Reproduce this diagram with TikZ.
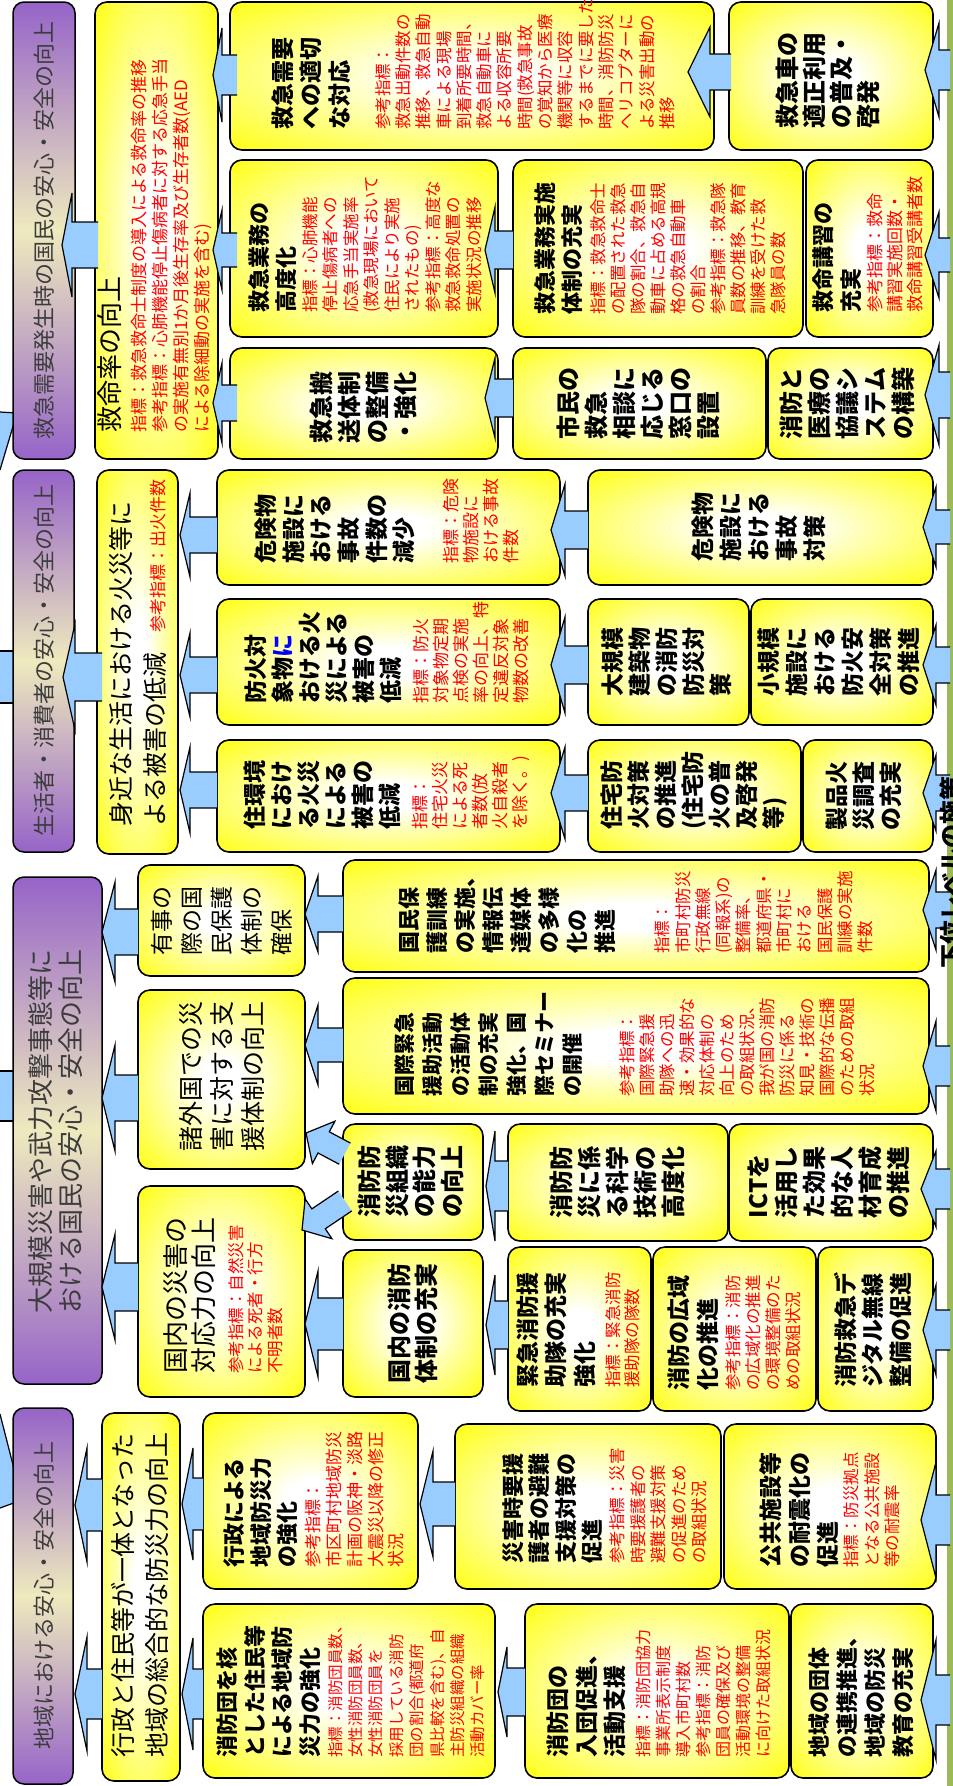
\documentclass[tikz,border=0pt]{standalone}
\usepackage{fontspec}
\setmainfont{Noto Sans CJK JP}
\definecolor{ylw}{RGB}{255,255,0}
\definecolor{prp}{RGB}{150,100,200}
\definecolor{crm}{RGB}{238,234,190}
\definecolor{blu}{RGB}{153,204,255}
\definecolor{grn}{RGB}{155,187,89}
\definecolor{rd}{RGB}{255,0,0}
\definecolor{ptx}{RGB}{60,60,60}
\pgfdeclareradialshading{yglow}{\pgfpoint{0bp}{0bp}}{color(0bp)=(white); color(6bp)=(white); color(38bp)=(ylw); color(50bp)=(ylw)}
\newcommand\Ln[4]{\baselineskip=#1pt\relax\hbox{\fontsize{#2pt}{#2pt}\selectfont\color{#3}#4}}
\newcommand\Tx[3]{\Ln{#1}{#2}{black}{\bfseries #3}}
\newcommand\Ux[3]{\Ln{#1}{#2}{black}{#3}}
\newcommand\Rx[3]{\Ln{#1}{#2}{rd}{#3}}
\newcommand\VB[1]{\vbox{\lineskiplimit=-100pt\lineskip=0pt\relax #1}}
\tikzset{
 ybox/.style={draw=black, line width=1.6pt, rounded corners=12pt, shading=yglow, rotate=90, inner sep=0pt, outer sep=0pt},
 pbox/.style={draw=black, line width=1.5pt, rounded corners=11pt, top color=prp, bottom color=prp, middle color=crm, rotate=90, inner sep=0pt, outer sep=0pt},
 txt/.style={rotate=90, inner sep=0pt},
 aline/.style={draw=black, line width=1.2pt, line join=miter}
}
% box: name, px1, px2, py1, py2
\newcommand{\yb}[6][]{\node[ybox,minimum width={(#6)-(#5)},minimum height={(#4)-(#3)},#1] (#2) at ({((#3)+(#4))/2},{-((#5)+(#6))/2}) {};}
\newcommand{\pb}[5]{\node[pbox,minimum width={(#5)-(#4)},minimum height={(#3)-(#2)}] (#1) at ({((#2)+(#3))/2},{-((#4)+(#5))/2}) {};}
% text node: anchor, name, px, py, content
\newcommand{\tx}[5]{\node[txt,anchor=#1] (#2) at (#3,-#4) {\VB{#5}};}
% arrow: tipx, tipy, angle, length, headlength, headhalfwidth, shafthalfwidth
\newcommand\garr[7]{\begin{scope}[shift={(#1,-#2)},rotate=#3]
\fill[blu] (0,0) -- ({-(#5)},{#6}) -- ({-(#5)},{#7}) -- ({-(#4)},{#7}) -- ({-(#4)},{-(#7)}) -- ({-(#5)},{-(#7)}) -- ({-(#5)},{-(#6)}) -- cycle;
\draw[aline] ({-(#4)},{#7}) -- ({-(#5)},{#7}) -- ({-(#5)},{#6}) -- (0,0) -- ({-(#5)},{-(#6)}) -- ({-(#5)},{-(#7)}) -- ({-(#4)},{-(#7)});
\end{scope}}
% left arrow: tip, base, tail, cy, hw, sw
\newcommand\larr[6]{\garr{#1}{#4}{180}{(#3)-(#1)}{(#2)-(#1)}{#5}{#6}}
\begin{document}
\begin{tikzpicture}[x=1pt,y=1pt]
\useasboundingbox (0,0) rectangle (953,-1786);
\clip (0,0) rectangle (953,-1786);
\fill[white] (0,0) rectangle (953,-1786);
% off-image arrows on the left
\fill[blu] (0,-412) -- (17,-413) -- (0,-470) -- cycle;
\draw[aline] (0,-412) -- (17,-413) -- (0,-470);
\fill[blu] (0,-1414) -- (22,-1500) -- (0,-1508) -- cycle;
\draw[aline] (0,-1414) -- (22,-1500) -- (0,-1508);
\fill[blu] (-5,-651) rectangle (14,-703);
\draw[aline] (-5,-651) -- (14,-651) (-5,-703) -- (14,-703);
\fill[blu] (-5,-1071) rectangle (14,-1121);
\draw[aline] (-5,-1071) -- (14,-1071) (-5,-1121) -- (14,-1121);
% green strip
\fill[grn] (947,0) rectangle (953,-1786);
% purple headers
\pb{p1}{13}{75}{2}{459}
\pb{p2}{13}{74}{470}{852}
\pb{p3}{13}{102}{877}{1384}
\pb{p4}{13}{73}{1408}{1784}
% level B
\yb{b1}{95}{218}{2}{459}
\yb{b2}{97}{178}{470}{854}
\yb{b3a}{138}{305}{865}{976}
\yb{b3b}{138}{305}{990}{1169}
\yb{b3c}{138}{305}{1186}{1397}
\yb{b4}{102}{180}{1413}{1781}
% section 1
\yb{s1a}{230}{714}{2}{150}
\yb{s1b}{729}{933}{2}{150}
\yb{s1c}{230}{498}{160}{337}
\yb{s1d}{513}{803}{160}{337}
\yb{s1e}{806}{933}{160}{337}
\yb{s1f}{230}{498}{348}{459}
\yb{s1g}{513}{766}{348}{459}
\yb{s1h}{768}{933}{348}{459}
% section 2
\yb{s2a}{217}{560}{470}{585}
\yb{s2b}{588}{933}{470}{585}
\yb{s2c}{217}{560}{599}{725}
\yb{s2d}{588}{749}{599}{725}
\yb{s2e}{751}{933}{599}{725}
\yb{s2f}{217}{560}{740}{852}
\yb{s2g}{588}{801}{740}{852}
\yb{s2h}{803}{933}{740}{852}
% section 3
\yb{s3a}{343}{929}{860}{972}
\yb{s3b}{343}{929}{978}{1114}
\yb{s3c}{343}{483}{1124}{1240}
\yb{s3d}{508}{728}{1124}{1241}
\yb{s3e}{729}{933}{1124}{1241}
\yb{s3f}{343}{483}{1250}{1397}
\yb{s3g}{508}{651}{1247}{1411}
\yb{s3h}{653}{816}{1247}{1411}
\yb{s3i}{818}{933}{1247}{1411}
% section 4
\yb{s4a}{203}{418}{1413}{1589}
\yb{s4b}{203}{495}{1604}{1778}
\yb{s4c}{455}{721}{1424}{1589}
\yb{s4d}{724}{936}{1424}{1589}
\yb{s4e}{525}{789}{1604}{1778}
\yb{s4f}{791}{933}{1604}{1778}
% arrows section 1
\larr{62}{72}{98}{245}{52}{23}
\larr{213}{222}{237}{75}{47}{20}
\larr{213}{222}{237}{250}{40}{17}
\larr{213}{222}{237}{403}{40}{18}
\larr{688}{710}{731}{72}{45}{18}
\larr{485}{495}{513}{250}{43}{19}
\larr{485}{495}{513}{398}{40}{19}
\larr{925}{939}{950}{70}{47}{20}
\larr{925}{939}{950}{255}{43}{17}
\larr{925}{939}{950}{395}{50}{23}
% arrows section 2
\larr{63}{75}{102}{677}{53}{24}
\larr{180}{190}{217}{535}{42}{18}
\larr{180}{190}{217}{675}{42}{18}
\larr{180}{190}{217}{790}{43}{18}
\larr{551}{565}{588}{530}{46}{19}
\larr{551}{565}{588}{665}{48}{19}
\larr{551}{565}{588}{793}{46}{18}
\larr{923}{936}{950}{527}{40}{17}
\larr{923}{936}{950}{665}{40}{18}
\larr{923}{936}{950}{793}{38}{18}
% arrows section 3
\larr{102}{115}{138}{932}{50}{23}
\larr{102}{115}{138}{1098}{53}{23}
\larr{102}{115}{138}{1287}{53}{24}
\larr{305}{318}{343}{914}{38}{18}
\larr{305}{318}{343}{1045}{40}{17}
\garr{306}{1133}{152}{44}{20}{24}{12}
\garr{302}{1230}{214}{52}{20}{24}{12}
\larr{305}{318}{343}{1324}{53}{26}
\larr{486}{495}{508}{1186}{55}{25}
\larr{486}{495}{508}{1325}{50}{24}
\larr{923}{936}{950}{910}{40}{18}
\larr{923}{936}{950}{1066}{45}{20}
\larr{921}{936}{950}{1189}{38}{20}
\larr{923}{936}{950}{1330}{45}{20}
% arrows section 4
\larr{75}{87}{102}{1505}{57}{26}
\larr{75}{87}{102}{1694}{57}{25}
\larr{182}{193}{203}{1504}{56}{26}
\larr{182}{193}{203}{1694}{56}{25}
\larr{420}{433}{455}{1504}{53}{22}
\larr{498}{507}{525}{1692}{45}{24}
\larr{921}{936}{950}{1520}{58}{25}
\larr{921}{936}{950}{1700}{60}{25}
% cut-off label at right edge
\node[txt] (lower) at (951,-872) {\fontsize{24pt}{24pt}\selectfont\bfseries 下位レベルの施策};
% purple texts
\tx{center}{p1t}{44}{230}{\Ln{26}{22}{ptx}{救急需要発生時の国民の安心・安全の向上}}
\tx{center}{p2t}{44}{660}{\Ln{26}{22}{ptx}{生活者・消費者の安心・安全の向上}}
\tx{center}{p3t}{56}{1131}{\Ln{30}{26}{ptx}{大規模災害や武力攻撃事態等に}\Ln{30}{26}{ptx}{おける国民の安心・安全の向上}}
\tx{center}{p4t}{44}{1595}{\Ln{26}{22}{ptx}{地域における安心・安全の向上}}
% level B texts
\tx{west}{b1t}{155}{433}{\Ux{26}{26}{救命率の向上}\Rx{26}{17}{指標：救急救命士制度の導入による救命率の推移}\Rx{21}{17}{参考指標：心肺機能停止傷病者に対する応急手当}\Rx{21}{17}{の実施有無別1か月後生存率及び生存者数(AED}\Rx{21}{17}{による除細動の実施を含む)}}
\tx{west}{b2t}{138}{827}{\Ux{34}{25}{身近な生活における火災等に}\Ux{34}{25}{よる被害の低減\hspace{20pt}{\fontsize{17pt}{17pt}\selectfont\color{rd}参考指標：出火件数}}}
\tx{center}{b3at}{222}{921}{\Ux{30}{23}{有事の}\Ux{30}{23}{際の国}\Ux{30}{23}{民保護}\Ux{30}{23}{体制の}\Ux{30}{23}{確保}}
\tx{west}{b3bt}{222}{1152}{\Ux{31}{25}{諸外国での災}\Ux{31}{25}{害に対する支}\Ux{31}{25}{援体制の向上}}
\tx{west}{b3ct}{223}{1374}{\Ux{28}{26}{国内の災害の}\Ux{28}{26}{対応力の向上}\Rx{29}{16.5}{参考指標：自然災害}\Rx{19.5}{16.5}{による死者・行方}\Rx{19.5}{16.5}{不明者数}}
\tx{west}{b4t}{140}{1758}{\Ux{34}{25}{行政と住民等が一体となった}\Ux{34}{25}{地域の総合的な防災力の向上}}
% section 1 texts
\tx{west}{s1at}{473}{130}{\Tx{28.5}{23}{救急需要}\Tx{28.5}{23}{への適切}\Tx{28.5}{23}{な対応}\Rx{41}{16.5}{参考指標：}\Rx{20.3}{16.5}{救急出動件数の}\Rx{20.3}{16.5}{推移、救急自動}\Rx{20.3}{16.5}{車による現場}\Rx{20.3}{16.5}{到着所要時間、}\Rx{20.3}{16.5}{救急自動車に}\Rx{20.3}{16.5}{よる収容所要}\Rx{20.3}{16.5}{時間(救急事故}\Rx{20.3}{16.5}{の覚知から医療}\Rx{20.3}{16.5}{機関等に収容}\Rx{20.3}{16.5}{するまでに要した}\Rx{20.3}{16.5}{時間、消防防災}\Rx{20.3}{16.5}{ヘリコプターに}\Rx{20.3}{16.5}{よる災害出動の}\Rx{20.3}{16.5}{推移}}
\tx{center}{s1bt}{828}{80}{\Tx{27}{24}{救急車の}\Tx{27}{24}{適正利用}\Tx{27}{24}{の普及・}\Tx{27}{24}{啓発}}
\tx{west}{s1ct}{365}{313}{\Tx{27}{22}{救急業務の}\Tx{27}{22}{高度化}\Rx{22}{16.5}{指標：心肺機能}\Rx{20.5}{16.5}{停止傷病者への}\Rx{20.5}{16.5}{応急手当実施率}\Rx{20.5}{16.5}{(救急現場において}\Rx{20.5}{16.5}{住民により実施}\Rx{20.5}{16.5}{されたもの)}\Rx{20.5}{16.5}{参考指標：高度な}\Rx{20.5}{16.5}{救急救命処置の}\Rx{20.5}{16.5}{実施状況の推移}}
\tx{west}{s1dt}{660}{315}{\Tx{27}{22}{救急業務実施}\Tx{27}{22}{体制の充実}\Rx{24}{16.5}{指標：救急救命士}\Rx{20}{16.5}{の配置された救急}\Rx{20}{16.5}{隊の割合、救急自}\Rx{20}{16.5}{動車に占める高規}\Rx{20}{16.5}{格の救急自動車}\Rx{20}{16.5}{の割合}\Rx{20}{16.5}{参考指標：救急隊}\Rx{20}{16.5}{員数の推移、教育}\Rx{20}{16.5}{訓練を受けた救}\Rx{20}{16.5}{急隊員の数}}
\tx{west}{s1et}{868}{313}{\Tx{28}{22}{救命講習の}\Tx{28}{22}{充実}\Rx{22}{17}{参考指標：救命}\Rx{20}{17}{講習実施回数・}\Rx{20}{17}{救命講習受講者数}}
\tx{center}{s1ft}{363}{407}{\Tx{28}{24}{救急搬}\Tx{28}{24}{送体制}\Tx{28}{24}{の整備}\Tx{28}{24}{・強化}}
\tx{center}{s1gt}{638}{403}{\Tx{28}{24}{市民の}\Tx{28}{24}{救急}\Tx{28}{24}{相談に}\Tx{28}{24}{応じる}\Tx{28}{24}{窓口の}\Tx{28}{24}{設置}}
\tx{center}{s1ht}{847}{403}{\Tx{28}{24}{消防と}\Tx{28}{24}{医療の}\Tx{28}{24}{協議シ}\Tx{28}{24}{ステム}\Tx{28}{24}{の構築}}
% section 2 texts
\tx{west}{s2at}{387}{564}{\Tx{27.6}{23}{危険物}\Tx{27.6}{23}{施設に}\Tx{27.6}{23}{おける}\Tx{27.6}{23}{事故}\Tx{27.6}{23}{件数の}\Tx{27.6}{23}{減少}\Rx{45}{17}{指標：危険}\Rx{20}{17}{物施設に}\Rx{20}{17}{おける事故}\Rx{20}{17}{件数}}
\tx{center}{s2bt}{759}{527}{\Tx{28}{23}{危険物}\Tx{28}{23}{施設に}\Tx{28}{23}{おける}\Tx{28}{23}{事故}\Tx{28}{23}{対策}}
\tx{west}{s2ct}{387}{704}{\Tx{27}{23}{防火対}\Tx{27}{23}{象物{\color{blue}に}}\Tx{27}{23}{おける火}\Tx{27}{23}{災による}\Tx{27}{23}{被害の}\Tx{27}{23}{低減}\Rx{28}{17}{指標：防火}\Rx{20}{17}{対象物定期}\Rx{20}{17}{点検の実施}\Rx{20}{17}{率の向上、特}\Rx{20}{17}{定違反対象}\Rx{20}{17}{物数の改善}}
\tx{center}{s2dt}{667}{662}{\Tx{27}{23}{大規模}\Tx{27}{23}{建築物}\Tx{27}{23}{の消防}\Tx{27}{23}{防災対}\Tx{27}{23}{策}}
\tx{center}{s2et}{839}{662}{\Tx{28}{23}{小規模}\Tx{28}{23}{施設に}\Tx{28}{23}{おける}\Tx{28}{23}{防火安}\Tx{28}{23}{全対策}\Tx{28}{23}{の推進}}
\tx{west}{s2ft}{387}{830}{\Tx{27}{23}{住環境}\Tx{27}{23}{におけ}\Tx{27}{23}{る火災}\Tx{27}{23}{による}\Tx{27}{23}{被害の}\Tx{27}{23}{低減}\Rx{28}{17}{指標：}\Rx{20}{17}{住宅火災}\Rx{20}{17}{による死}\Rx{20}{17}{者数(放}\Rx{20}{17}{火自殺者}\Rx{20}{17}{を除く。)}}
\tx{west}{s2gt}{694}{830}{\Tx{27}{23}{住宅防}\Tx{27}{23}{火対策}\Tx{27}{23}{の推進}\Tx{27}{23}{(住宅防}\Tx{27}{23}{火の普}\Tx{27}{23}{及啓発}\Tx{27}{23}{等)}}
\tx{center}{s2ht}{864}{796}{\Tx{27}{23}{製品火}\Tx{27}{23}{災調査}\Tx{27}{23}{の充実}}
% section 3 texts
\tx{west}{s3at}{636}{954}{\Tx{28}{22}{国民保}\Tx{28}{22}{護訓練}\Tx{28}{22}{の実施、}\Tx{28}{22}{情報伝}\Tx{28}{22}{達媒体}\Tx{28}{22}{の多様}\Tx{28}{22}{化の}\Tx{28}{22}{推進}\Rx{55}{16.5}{指標：}\Rx{20.3}{16.5}{市町村防災}\Rx{20.3}{16.5}{行政無線}\Rx{20.3}{16.5}{(同報系)の}\Rx{20.3}{16.5}{整備率、}\Rx{20.3}{16.5}{都道府県・}\Rx{20.3}{16.5}{市町村に}\Rx{20.3}{16.5}{おける}\Rx{20.3}{16.5}{国民保護}\Rx{20.3}{16.5}{訓練の実施}\Rx{20.3}{16.5}{件数}}
\tx{west}{s3bt}{635}{1097}{\Tx{28}{21}{国際緊急}\Tx{28}{21}{援助活動}\Tx{28}{21}{の活動体}\Tx{28}{21}{制の充実}\Tx{28}{21}{強化、国}\Tx{28}{21}{際セミナー}\Tx{28}{21}{の開催}\Rx{53}{16.5}{参考指標：}\Rx{20}{16.5}{国際緊急援}\Rx{20}{16.5}{助隊への迅}\Rx{20}{16.5}{速・効果的な}\Rx{20}{16.5}{対応体制の}\Rx{20}{16.5}{向上のため}\Rx{20}{16.5}{の取組状況、}\Rx{20}{16.5}{我が国の消防}\Rx{20}{16.5}{防災に係る}\Rx{20}{16.5}{知見・技術の}\Rx{20}{16.5}{国際的な伝播}\Rx{20}{16.5}{のための取組}\Rx{20}{16.5}{状況}}
\tx{center}{s3ct}{411}{1181}{\Tx{27.5}{24}{消防防}\Tx{27.5}{24}{災組織}\Tx{27.5}{24}{の能力}\Tx{27.5}{24}{の向上}}
\tx{center}{s3dt}{617}{1182}{\Tx{28}{24}{消防防}\Tx{28}{24}{災に係}\Tx{28}{24}{る科学}\Tx{28}{24}{技術の}\Tx{28}{24}{高度化}}
\tx{center}{s3et}{829}{1182}{\Tx{28}{24}{ICTを}\Tx{28}{24}{活用し}\Tx{28}{24}{た効果}\Tx{28}{24}{的な人}\Tx{28}{24}{材育成}\Tx{28}{24}{の推進}}
\tx{center}{s3ft}{413}{1323}{\Tx{27}{24}{国内の消防}\Tx{27}{24}{体制の充実}}
\tx{west}{s3gt}{578}{1388}{\Tx{28.5}{23}{緊急消防援}\Tx{28.5}{23}{助隊の充実}\Tx{28.5}{23}{強化}\Rx{26}{16.5}{指標：緊急消防}\Rx{19}{16.5}{援助隊の隊数}}
\tx{west}{s3ht}{734}{1391}{\Tx{29}{23}{消防の広域}\Tx{29}{23}{化の推進}\Rx{23}{16.5}{参考指標：消防}\Rx{20}{16.5}{の広域化の推進}\Rx{20}{16.5}{の環境整備のた}\Rx{20}{16.5}{めの取組状況}}
\tx{west}{s3it}{873}{1388}{\Tx{27.5}{23}{消防救急デ}\Tx{27.5}{23}{ジタル無線}\Tx{27.5}{23}{整備の促進}}
% section 4 texts
\tx{west}{s4at}{314}{1568}{\Tx{26.5}{22}{行政による}\Tx{26.5}{22}{地域防災力}\Tx{26.5}{22}{の強化}\Rx{24}{17}{参考指標：}\Rx{20.8}{17}{市区町村地域防災}\Rx{20.8}{17}{計画の阪神・淡路}\Rx{20.8}{17}{大震災以降の修正}\Rx{20.8}{17}{状況}}
\tx{west}{s4bt}{351}{1758}{\Tx{27.5}{22}{消防団を核}\Tx{27.5}{22}{とした住民等}\Tx{27.5}{22}{による地域防}\Tx{27.5}{22}{災力の強化}\Rx{23}{15.5}{指標：消防団員数、}\Rx{20.4}{15.5}{女性消防団員数、}\Rx{20.4}{15.5}{女性消防団員を}\Rx{20.4}{15.5}{採用している消防}\Rx{20.4}{15.5}{団の割合(都道府}\Rx{20.4}{15.5}{県比較を含む)、自}\Rx{20.4}{15.5}{主防災組織の組織}\Rx{20.4}{15.5}{活動カバー率}}
\tx{west}{s4ct}{605}{1564}{\Tx{26.5}{22}{災害時要援}\Tx{26.5}{22}{護者の避難}\Tx{26.5}{22}{支援対策の}\Tx{26.5}{22}{促進}\Rx{23}{16.5}{参考指標：災害}\Rx{20.5}{16.5}{時要援護者の}\Rx{20.5}{16.5}{避難支援対策}\Rx{20.5}{16.5}{の促進のため}\Rx{20.5}{16.5}{の取組状況}}
\tx{west}{s4dt}{830}{1568}{\Tx{28.5}{23}{公共施設等}\Tx{28.5}{23}{の耐震化の}\Tx{28.5}{23}{促進}\Rx{21}{16.5}{指標：防災拠点}\Rx{20.5}{16.5}{となる公共施設}\Rx{20.5}{16.5}{等の耐震率}}
\tx{west}{s4et}{659}{1758}{\Tx{28.5}{23}{消防団の}\Tx{28.5}{23}{入団促進、}\Tx{28.5}{23}{活動支援}\Rx{26}{16}{指標：消防団協力}\Rx{20}{16}{事業所表示制度}\Rx{20}{16}{導入市町村数}\Rx{20}{16}{参考指標：消防}\Rx{20}{16}{団員の確保及び}\Rx{20}{16}{活動環境の整備}\Rx{20}{16}{に向けた取組状況}}
\tx{west}{s4ft}{861}{1758}{\Tx{28}{22}{地域の団体}\Tx{28}{22}{の連携推進、}\Tx{28}{22}{地域の防災}\Tx{28}{22}{教育の充実}}
\end{tikzpicture}
\end{document}
